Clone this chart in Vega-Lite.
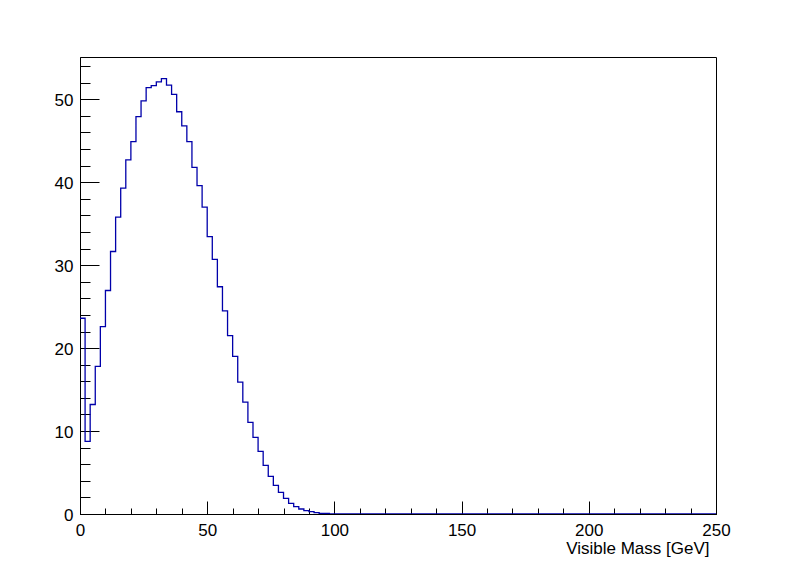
{
  "$schema": "https://vega.github.io/schema/vega-lite/v6.json",
  "width": 636,
  "height": 457,
  "autosize": {"type": "none"},
  "padding": {"left": 80, "top": 57, "right": 80, "bottom": 58},
  "background": "white",
  "config": {
    "view": {"stroke": "black", "strokeWidth": 1},
    "font": "Liberation Sans",
    "axis": {
      "grid": false,
      "domainColor": "black",
      "tickColor": "black",
      "labelColor": "black",
      "labelFont": "Liberation Sans",
      "labelFontSize": 17,
      "labelFlush": false,
      "labelOverlap": false
    }
  },
  "data": {
    "values": [
      {"mass": 0, "events": 23.6},
      {"mass": 2, "events": 8.75},
      {"mass": 4, "events": 13.2},
      {"mass": 6, "events": 17.8},
      {"mass": 8, "events": 22.6},
      {"mass": 10, "events": 26.95},
      {"mass": 12, "events": 31.65},
      {"mass": 14, "events": 35.8},
      {"mass": 16, "events": 39.3},
      {"mass": 18, "events": 42.7},
      {"mass": 20, "events": 44.9},
      {"mass": 22, "events": 47.9},
      {"mass": 24, "events": 49.8},
      {"mass": 26, "events": 51.4},
      {"mass": 28, "events": 51.65},
      {"mass": 30, "events": 52.1},
      {"mass": 32, "events": 52.5},
      {"mass": 34, "events": 51.7},
      {"mass": 36, "events": 50.6},
      {"mass": 38, "events": 48.5},
      {"mass": 40, "events": 46.8},
      {"mass": 42, "events": 44.9},
      {"mass": 44, "events": 41.8},
      {"mass": 46, "events": 39.6},
      {"mass": 48, "events": 37.0},
      {"mass": 50, "events": 33.45},
      {"mass": 52, "events": 30.7},
      {"mass": 54, "events": 27.4},
      {"mass": 56, "events": 24.5},
      {"mass": 58, "events": 21.5},
      {"mass": 60, "events": 19.0},
      {"mass": 62, "events": 15.9},
      {"mass": 64, "events": 13.5},
      {"mass": 66, "events": 11.05},
      {"mass": 68, "events": 9.24},
      {"mass": 70, "events": 7.55},
      {"mass": 72, "events": 5.87},
      {"mass": 74, "events": 4.54},
      {"mass": 76, "events": 3.45},
      {"mass": 78, "events": 2.6},
      {"mass": 80, "events": 1.88},
      {"mass": 82, "events": 1.29},
      {"mass": 84, "events": 0.88},
      {"mass": 86, "events": 0.6},
      {"mass": 88, "events": 0.4},
      {"mass": 90, "events": 0.28},
      {"mass": 92, "events": 0.16},
      {"mass": 94, "events": 0.08},
      {"mass": 96, "events": 0.06},
      {"mass": 98, "events": 0},
      {"mass": 250, "events": 0}
    ]
  },
  "resolve": {"axis": {"x": "independent", "y": "independent"}},
  "layer": [
    {
      "mark": {"type": "line", "interpolate": "step-after", "opacity": 0},
      "encoding": {
        "x": {
          "field": "mass",
          "type": "quantitative",
          "scale": {"domain": [0, 250], "nice": false, "zero": false},
          "axis": {
            "orient": "bottom",
            "title": null,
            "values": [0,10,20,30,40,50,60,70,80,90,100,110,120,130,140,150,160,170,180,190,200,210,220,230,240,250],
            "labels": false,
            "domain": false,
            "tickSize": -6
          }
        },
        "y": {
          "field": "events",
          "type": "quantitative",
          "scale": {"domain": [0, 55.1], "nice": false},
          "axis": {
            "orient": "left",
            "title": null,
            "values": [0,2,4,6,8,10,12,14,16,18,20,22,24,26,28,30,32,34,36,38,40,42,44,46,48,50,52,54],
            "labels": false,
            "domain": false,
            "tickSize": -10
          }
        }
      }
    },
    {
      "mark": {"type": "line", "interpolate": "step-after", "color": "#0000aa", "strokeWidth": 1.3, "clip": true},
      "encoding": {
        "x": {
          "field": "mass",
          "type": "quantitative",
          "axis": {
            "orient": "bottom",
            "title": "Visible Mass [GeV]",
            "values": [0, 50, 100, 150, 200, 250],
            "tickSize": -13,
            "labelPadding": 21,
            "titleFont": "Liberation Sans",
            "titleFontSize": 17,
            "titleFontWeight": "normal",
            "titleColor": "black",
            "titleAlign": "right",
            "titleBaseline": "alphabetic",
            "titleAnchor": null,
            "titleX": 629,
            "titleY": 39
          }
        },
        "y": {
          "field": "events",
          "type": "quantitative",
          "axis": {
            "orient": "left",
            "title": null,
            "values": [0, 10, 20, 30, 40, 50],
            "tickSize": -19,
            "labelPadding": 26,
            "labelOffset": 1
          }
        }
      }
    }
  ]
}
